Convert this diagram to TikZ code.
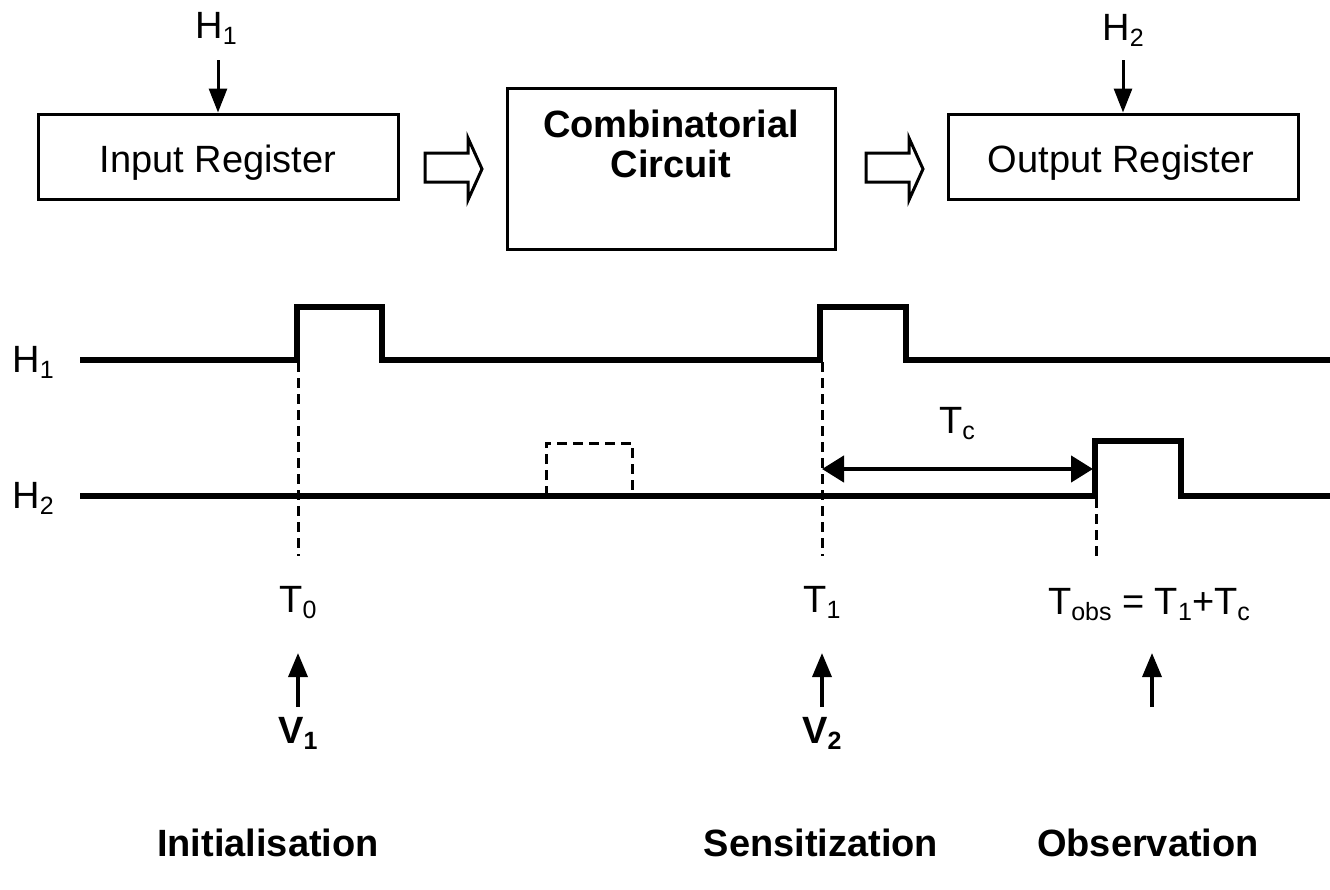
\documentclass[tikz,border=0pt]{standalone}
\usepackage{fontspec}
\setmainfont{Liberation Sans}
\usetikzlibrary{arrows.meta}
\newcommand\lsub[1]{\raisebox{-6pt}{\fontsize{25}{25}\selectfont #1}}
\begin{document}
\begin{tikzpicture}[x=1pt,y=-1pt,
  lbl/.style={font=\fontsize{38}{44}\selectfont, inner sep=0pt, anchor=base},
  blbl/.style={lbl, font=\fontsize{38}{44}\selectfont\bfseries},
  regbox/.style={draw, line width=3pt, inner sep=0pt},
  sig/.style={line width=5.5pt, line join=miter},
  guide/.style={line width=3pt, dash pattern=on 10pt off 6pt},
  clk/.style={-{Triangle[length=24pt,width=18pt]}, line width=3pt},
  upar/.style={-{Triangle[length=24pt,width=19pt]}, line width=3.5pt},
  span/.style={{Triangle[length=22pt,width=26pt]}-{Triangle[length=22pt,width=26pt]}, line width=4.5pt},
  hollow/.style={draw, line width=3pt, fill=white, line join=miter}
]
\useasboundingbox (0,0) rectangle (1330,889);

% boxes
\node[regbox, minimum width=360pt, minimum height=85pt] (inreg) at (218,156.5) {};
\node[regbox, minimum width=328pt, minimum height=161pt] (comb) at (671,168.5) {};
\node[regbox, minimum width=350pt, minimum height=85pt] (outreg) at (1123,156.5) {};
\node[lbl] (inregt) at (218,172) {Input Register};
\node[blbl] (combt1) at (671,137) {Combinatorial};
\node[blbl] (combt2) at (671,177) {Circuit};
\node[lbl] (outregt) at (1121,172) {Output Register};

% clock inputs
\node[lbl] (h1top) at (216,38) {H\lsub{1}};
\node[lbl] (h2top) at (1123,40) {H\lsub{2}};
\coordinate (h1a) at (218,60);
\coordinate (h2a) at (1123,60);
\draw[clk] (h1a) -- (inreg.north);
\draw[clk] (h2a) -- (outreg.north);

% hollow arrows
\draw[hollow] (425,153) -- (468,153) -- (468,138) -- (482,169) -- (468,200) -- (468,182) -- (425,182) -- cycle;
\draw[hollow] (866,153) -- (909,153) -- (909,138) -- (923,169) -- (909,200) -- (909,182) -- (866,182) -- cycle;

% waveform labels
\node[lbl] (h1l) at (33,372) {H\lsub{1}};
\node[lbl] (h2l) at (33,508) {H\lsub{2}};

% waveforms
\draw[sig] (80,360) -- (297,360) -- (297,307) -- (382,307) -- (382,360) -- (820,360) -- (820,307) -- (906,307) -- (906,360) -- (1330,360);
\draw[sig] (80,496) -- (1095,496) -- (1095,441) -- (1181,441) -- (1181,496) -- (1330,496);
\draw[guide] (546,496) -- (546,443) -- (632,443) -- (632,496);

% guides
\draw[guide] (298,362) -- (298,556);
\draw[guide] (822,362) -- (822,556);
\draw[guide] (1096,498) -- (1096,556);

% Tc
\coordinate (tcl) at (822,469);
\coordinate (tcr) at (1093,469);
\draw[span] (tcl) -- (tcr);
\node[lbl] (tc) at (957,433) {T\lsub{c}};

% times
\node[lbl] (t0) at (298,612) {T\lsub{0}};
\node[lbl] (t1) at (822,612) {T\lsub{1}};
\node[lbl] (tobs) at (1149,614) {T\lsub{obs} = T\lsub{1}+T\lsub{c}};

% vectors
\coordinate (a1s) at (298,707); \coordinate (a1e) at (298,653);
\coordinate (a2s) at (822,707); \coordinate (a2e) at (822,653);
\coordinate (a3s) at (1152,707); \coordinate (a3e) at (1152,653);
\draw[upar] (a1s) -- (a1e);
\draw[upar] (a2s) -- (a2e);
\draw[upar] (a3s) -- (a3e);
\node[blbl] (v1) at (298,743) {V\lsub{\bfseries 1}};
\node[blbl] (v2) at (822,743) {V\lsub{\bfseries 2}};

% phases
\node[blbl] (ini) at (268,856) {Initialisation};
\node[blbl] (sen) at (821,856) {Sensitization};
\node[blbl] (obs) at (1148,856) {Observation};
\end{tikzpicture}
\end{document}
